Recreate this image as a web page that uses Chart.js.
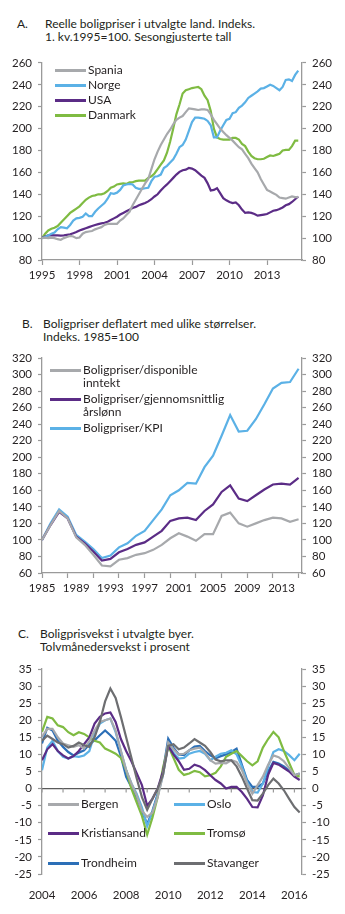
<!DOCTYPE html>
<html>
<head>
<meta charset="utf-8">
<script src="https://cdn.jsdelivr.net/npm/chart.js@4.4.1/dist/chart.umd.min.js"></script>
<style>
  body { margin: 0; background: #fff; font-family: Lato, sans-serif; color: #231f20; }
  #page { position: relative; width: 345px; height: 914px; overflow: hidden; }
  canvas { position: absolute; left: 0; }
  .title { position: absolute; font-size: 12px; line-height: 13px; }
  .title .no { position: absolute; left: 0; top: 0; }
  .title .txt { position: absolute; top: 0; white-space: nowrap; }
  .item { position: absolute; display: flex; align-items: flex-start; font-size: 12px; line-height: 12.5px; white-space: nowrap; }
  .swatch { display: inline-block; width: 31px; height: 3px; margin-top: 5px; margin-right: 2px; }
</style>
</head>
<body>
<div id="page">
  <div class="title" style="left:17px;top:17px"><span class="no">A.</span><span class="txt" style="left:28px">Reelle boligpriser i utvalgte land. Indeks.<br>1. kv.1995=100. Sesongjusterte tall</span></div>
  <div class="title" style="left:22px;top:317px"><span class="no">B.</span><span class="txt" style="left:21px">Boligpriser deflatert med ulike størrelser.<br>Indeks. 1985=100</span></div>
  <div class="title" style="left:18px;top:627px"><span class="no">C.</span><span class="txt" style="left:22px">Boligprisvekst i utvalgte byer.<br>Tolvmånedersvekst i prosent</span></div>

  <canvas id="chartA" width="345" height="240" style="top:50px"></canvas>
  <canvas id="chartB" width="345" height="258" style="top:345px"></canvas>
  <canvas id="chartC" width="345" height="249" style="top:655px"></canvas>

  <div class="item" style="left:55px;top:64px"><span class="swatch" style="background:#a7a9ac"></span>Spania</div>
  <div class="item" style="left:55px;top:79px"><span class="swatch" style="background:#5bb1e6"></span>Norge</div>
  <div class="item" style="left:55px;top:94px"><span class="swatch" style="background:#5b2c86"></span>USA</div>
  <div class="item" style="left:55px;top:109px"><span class="swatch" style="background:#7fbb42"></span>Danmark</div>

  <div class="item" style="left:50px;top:364px"><span class="swatch" style="background:#a7a9ac"></span>Boligpriser/disponible<br>inntekt</div>
  <div class="item" style="left:50px;top:393px"><span class="swatch" style="background:#5b2c86"></span>Boligpriser/gjennomsnittlig<br>årslønn</div>
  <div class="item" style="left:50px;top:422px"><span class="swatch" style="background:#5bb1e6"></span>Boligpriser/KPI</div>

  <div class="item" style="left:48px;top:798px"><span class="swatch" style="background:#a7a9ac"></span>Bergen</div>
  <div class="item" style="left:48px;top:827px"><span class="swatch" style="background:#5b2c86"></span>Kristiansand</div>
  <div class="item" style="left:48px;top:857px"><span class="swatch" style="background:#2c6fb7"></span>Trondheim</div>
  <div class="item" style="left:174px;top:798px"><span class="swatch" style="background:#5bb1e6"></span>Oslo</div>
  <div class="item" style="left:174px;top:827px"><span class="swatch" style="background:#7fbb42"></span>Tromsø</div>
  <div class="item" style="left:174px;top:857px"><span class="swatch" style="background:#6d6e71"></span>Stavanger</div>
</div>
<script>
const TEXT = '#231f20';
const AXIS = '#9a9a9a';
const COLORS = {
  lightGray: '#a7a9ac',
  lightBlue: '#5bb1e6',
  purple: '#5b2c86',
  green: '#7fbb42',
  blue: '#2c6fb7',
  darkGray: '#6d6e71',
};

// A: real house prices, quarterly from 1995 Q1
const startA = 1995;
const yearsA = [1995, 1998, 2001, 2004, 2007, 2010, 2013];
const spania = [
  100, 100.5, 100, 100.5, 100, 99, 98.5, 100, 101, 102, 101.5, 100,
  100.5, 104, 105.5, 106, 106.5, 108, 109, 110, 112, 113, 113, 113,
  113, 116, 118, 121, 124, 130, 135, 140, 145, 150, 154, 163,
  172, 179, 185, 190, 195, 199, 204, 208, 210, 211.5, 215, 218.5,
  218, 217.5, 217, 217.5, 217.5, 217, 213, 208, 204, 200, 197, 194,
  191.5, 189, 186, 183, 181, 177, 173, 168, 164, 160, 154, 149,
  144, 142.5, 141, 139.5, 137, 136.5, 136, 137, 138, 137.5, 137.5,
];
const norge = [
  100, 101, 102.5, 104, 105, 108, 110, 109.5, 109, 112, 116, 118,
  118.5, 119.5, 122.5, 120, 120, 124, 127, 129.5, 132, 136, 141, 140.5,
  141.5, 144, 148, 149, 149.5, 149, 146, 145, 145, 145.5, 146, 152,
  156, 156.5, 158, 164, 166, 169, 172, 177, 183, 185, 190, 198,
  206, 210, 210, 209.5, 209, 207, 203, 192, 192, 198, 203, 208,
  209, 214, 215, 219, 221, 224, 228, 230, 232, 234, 236.5, 237,
  238.5, 240, 239, 237, 235, 238, 244.5, 245, 243.5, 249, 253,
];
const usa = [
  100, 101.5, 102.5, 102.8, 102.5, 102.5, 102.3, 102.5, 103, 103.5, 104.5, 105.5,
  107, 108, 109, 110, 111, 112, 112.8, 113.5, 114, 115, 116.5, 118,
  119.5, 121.5, 123, 124.5, 126, 127.5, 128.5, 130, 131, 132, 133.5, 135.5,
  138, 140, 143.5, 146.5, 149, 152, 155, 158, 160.5, 162, 162.5, 164,
  163.5, 162, 159.5, 157, 155, 150, 143.5, 144, 145.5, 141, 136.5, 134.5,
  133, 132, 132.5, 130, 126, 123, 123.5, 123, 122, 120.5, 121, 121.5,
  122, 123.5, 125, 125.5, 126.5, 128, 130, 131, 133, 135.5, 138,
];
const danmark = [
  100, 104, 107, 108.5, 109.5, 111, 114, 117, 120, 123, 125, 127,
  129, 132, 135, 137, 138.5, 139, 140, 140, 141, 143, 146, 147,
  149, 149.5, 150, 149.5, 151, 151, 152, 152.5, 152.5, 152.5, 155, 156.5,
  159, 163, 167, 171, 178, 188, 200, 213, 222, 232, 235, 236,
  237, 237.5, 238, 236, 230, 226, 216, 200, 192, 190.5, 190, 190,
  190, 191.5, 191.5, 190, 186, 184, 179, 175, 173, 172, 172, 172.5,
  174, 175.5, 175, 176, 177, 180, 180.5, 180.5, 184, 189, 189,
];

// B: deflated house prices, yearly 1985-2015
const startB = 1985;
const tickYearsB = [1985, 1988, 1991, 1994, 1997, 2000, 2003, 2006, 2009, 2012, 2015];
const labelYearsB = [1985, 1989, 1993, 1997, 2001, 2005, 2009, 2013];
const dispInntekt = [100, 118, 135, 126, 103, 94, 82, 69, 68, 76, 78, 82, 84, 88, 94, 102, 108, 104, 99, 107, 107, 129, 133, 120, 116, 120, 124, 127, 126, 122, 125];
const arslonn = [100, 118, 134, 126, 104, 96, 86, 75, 77, 85, 89, 94, 97, 104, 111, 123, 126, 127, 124, 135, 143, 158, 166, 150, 147, 154, 161, 167, 168, 167, 175];
const kpi = [100, 120, 137, 128, 106, 98, 89, 78, 81, 91, 96, 105, 111, 124, 137, 154, 160, 169, 168, 188, 202, 226, 251, 231, 232, 246, 264, 283, 290, 291, 307];

// C: twelve-month growth by city, quarterly from Jan 2004
const startC = 2004;
const tickYearsC = [2004, 2005, 2006, 2007, 2008, 2009, 2010, 2011, 2012, 2013, 2014, 2015, 2016];
const labelYearsC = [2004, 2006, 2008, 2010, 2012, 2014, 2016];
const bergen = [
  15.1, 17.5, 17.5, 15, 13.2, 12.7, 12.2, 12.7, 11.7, 13.8, 17, 19.5,
  20, 20.5, 17, 11, 5.4, 1.5, -2, -6.5, -8.3, -7, -2.5, 4,
  13.5, 11.5, 10, 10.2, 11.2, 11.7, 12, 10.5, 8.3, 7.3, 7.5, 7.4,
  8.3, 7.8, 5.5, 1.5, -1.5, 1, 3.5, 7, 9.7, 9.2, 8, 6, 3.9, 4.4,
];
const oslo = [
  5.4, 12, 14, 11, 9.3, 8.8, 9.5, 9.3, 9.7, 11, 16, 19,
  20, 20.5, 16.5, 11, 5.4, 1.5, -1.5, -5.5, -11, -7, -2, 4,
  13, 10.5, 8.8, 9, 10.2, 10.7, 11, 10.2, 8.3, 9.3, 10.2, 10.5,
  11.2, 10, 6.5, 2, -1, -1.2, 1.5, 6.5, 10.7, 11.5, 11, 9.8, 8.3, 10.2,
];
const kristiansand = [
  8.3, 11.5, 13, 11, 9.7, 8.8, 9.5, 11, 13, 15, 19, 21,
  22, 22.3, 19.5, 14.5, 11, 8, 4.5, 1, -5, -3, 0, 5,
  12.5, 10, 8, 5.5, 5.8, 7, 6.5, 5.4, 3.9, 2.5, 1.5, 0,
  0.5, 0.5, -1, -3, -5.4, -5.5, -2, 4, 7.5, 7, 6, 5, 3.5, 2.5,
];
const tromso = [
  16.6, 21, 20.5, 18.5, 18, 16.5, 15.6, 16.5, 16, 15, 14, 13.5,
  11.7, 11, 10.2, 9, 5.4, 0, -4, -8, -13.5, -8.5, -2.5, 6,
  12.5, 9, 5.5, 4, 4.4, 5.2, 4.8, 3.6, 3.9, 4.6, 6.5, 9.3,
  10.2, 11, 9.5, 8, 6.8, 8, 12, 14.5, 16.6, 15, 11, 7.5, 4, 3.5,
];
const trondheim = [
  13.2, 17.8, 17, 14, 12.2, 10.7, 9.7, 10.5, 11.2, 13, 14.1, 15.6,
  17, 15.6, 14, 9.5, 3.4, 0.5, -2.5, -6.5, -10.4, -6.5, -1.5, 5,
  14.6, 12, 10, 9.8, 11.2, 12.3, 12.5, 11, 9.7, 8.9, 9.5, 10,
  10.7, 11.7, 7, 2.5, 0.5, 0.5, 1.5, 5, 7.8, 7.3, 6.5, 5.3, 3.9, 4.4,
];
const stavanger = [
  14, 15.5, 14.5, 13.5, 13, 12, 12.5, 13.5, 12.7, 12.2, 15, 19.5,
  25.5, 29.3, 26.5, 21, 15, 9, 3, -2.5, -6.2, -3, 0, 4,
  12.5, 13, 11.5, 12, 13.2, 14.5, 13.5, 12.5, 10.7, 8.5, 8, 8.3,
  8.3, 6.5, 3.5, 0, -3.4, -3.5, -1.5, 1, 2.9, 1.5, -0.5, -3, -5.4, -7,
];

Chart.defaults.font.family = 'Lato, sans-serif';
Chart.defaults.font.size = 11.5;
Chart.defaults.color = TEXT;

function series(label, values, start, step, color) {
  return {
    label,
    data: values.map((v, i) => ({ x: start + i * step, y: v })),
    borderColor: color,
    borderWidth: 2.2,
    pointRadius: 0,
    tension: 0,
    fill: false,
  };
}

function yAxis(position, min, max, step, width) {
  return {
    type: 'linear',
    position,
    min,
    max,
    afterFit: (s) => { s.width = width; },
    ticks: { stepSize: step, padding: 6, color: TEXT, autoSkip: false },
    grid: { drawOnChartArea: false, tickLength: 4, tickColor: AXIS, tickWidth: 1.2 },
    border: { color: AXIS, width: 1.3 },
  };
}

function baseOptions(top, scales, extra) {
  return {
    responsive: false,
    animation: false,
    devicePixelRatio: 1,
    layout: { padding: { top, left: 0, right: 0, bottom: 0 }, autoPadding: false },
    plugins: { legend: { display: false }, tooltip: { enabled: false } },
    scales,
    ...extra,
  };
}

// zero line with yearly tick marks for panel C
const zeroAxis = {
  id: 'zeroAxis',
  beforeDatasetsDraw(chart) {
    const { ctx, chartArea, scales } = chart;
    const y0 = scales.y.getPixelForValue(0);
    ctx.save();
    ctx.strokeStyle = '#5a5a5a';
    ctx.lineWidth = 1.2;
    ctx.beginPath();
    ctx.moveTo(chartArea.left, y0);
    ctx.lineTo(chartArea.right, y0);
    ctx.stroke();
    ctx.strokeStyle = AXIS;
    ctx.beginPath();
    tickYearsC.forEach((yr) => {
      const px = scales.x.getPixelForValue(yr);
      ctx.moveTo(px, y0);
      ctx.lineTo(px, y0 + 4);
    });
    ctx.stroke();
    ctx.restore();
  },
};

new Chart(document.getElementById('chartA'), {
  type: 'line',
  data: {
    datasets: [
      series('Spania', spania, startA, 0.25, COLORS.lightGray),
      series('Norge', norge, startA, 0.25, COLORS.lightBlue),
      series('USA', usa, startA, 0.25, COLORS.purple),
      series('Danmark', danmark, startA, 0.25, COLORS.green),
    ],
  },
  options: baseOptions(8, {
    x: {
      type: 'linear',
      min: 1995,
      max: 2015.8,
      afterFit: (s) => { s.height = 30; },
      afterBuildTicks: (s) => { s.ticks = yearsA.map((v) => ({ value: v })); },
      ticks: { callback: (v) => String(v), autoSkip: false, maxRotation: 0, padding: 3 },
      grid: { drawOnChartArea: false, tickLength: 5, tickColor: AXIS, tickWidth: 1.2 },
      border: { color: AXIS, width: 1.3 },
    },
    y: yAxis('left', 80, 260, 20, 42),
    y2: yAxis('right', 80, 260, 20, 43),
  }),
});

new Chart(document.getElementById('chartB'), {
  type: 'line',
  data: {
    datasets: [
      series('Boligpriser/disponible inntekt', dispInntekt, startB, 1, COLORS.lightGray),
      series('Boligpriser/gjennomsnittlig årslønn', arslonn, startB, 1, COLORS.purple),
      series('Boligpriser/KPI', kpi, startB, 1, COLORS.lightBlue),
    ],
  },
  options: baseOptions(13, {
    x: {
      type: 'linear',
      min: 1985,
      max: 2015.4,
      afterFit: (s) => { s.height = 30; },
      afterBuildTicks: (s) => {
        const all = [...new Set([...tickYearsB, ...labelYearsB])].sort((a, b) => a - b);
        s.ticks = all.map((v) => ({ value: v }));
      },
      ticks: {
        callback: (v) => (labelYearsB.includes(v) ? String(v) : ''),
        autoSkip: false,
        maxRotation: 0,
        padding: 3,
      },
      grid: {
        drawOnChartArea: false,
        tickLength: 5,
        tickWidth: 1.2,
        tickColor: (c) => (tickYearsB.includes(c.tick.value) ? AXIS : 'rgba(0,0,0,0)'),
      },
      border: { color: AXIS, width: 1.3 },
    },
    y: yAxis('left', 60, 320, 20, 42),
    y2: yAxis('right', 60, 320, 20, 43),
  }),
});

new Chart(document.getElementById('chartC'), {
  type: 'line',
  data: {
    datasets: [
      series('Stavanger', stavanger, startC, 0.25, COLORS.darkGray),
      series('Bergen', bergen, startC, 0.25, COLORS.lightGray),
      series('Kristiansand', kristiansand, startC, 0.25, COLORS.purple),
      series('Tromsø', tromso, startC, 0.25, COLORS.green),
      series('Oslo', oslo, startC, 0.25, COLORS.lightBlue),
      series('Trondheim', trondheim, startC, 0.25, COLORS.blue),
    ],
  },
  plugins: [zeroAxis],
  options: baseOptions(14, {
    x: {
      type: 'linear',
      min: 2004,
      max: 2016.36,
      afterFit: (s) => { s.height = 30; },
      afterBuildTicks: (s) => { s.ticks = labelYearsC.map((v) => ({ value: v })); },
      ticks: { callback: (v) => String(v), autoSkip: false, maxRotation: 0, padding: 6 },
      grid: { display: false },
      border: { display: false },
    },
    y: yAxis('left', -25, 35, 5, 42),
    y2: yAxis('right', -25, 35, 5, 43),
  }),
});
</script>
</body>
</html>
